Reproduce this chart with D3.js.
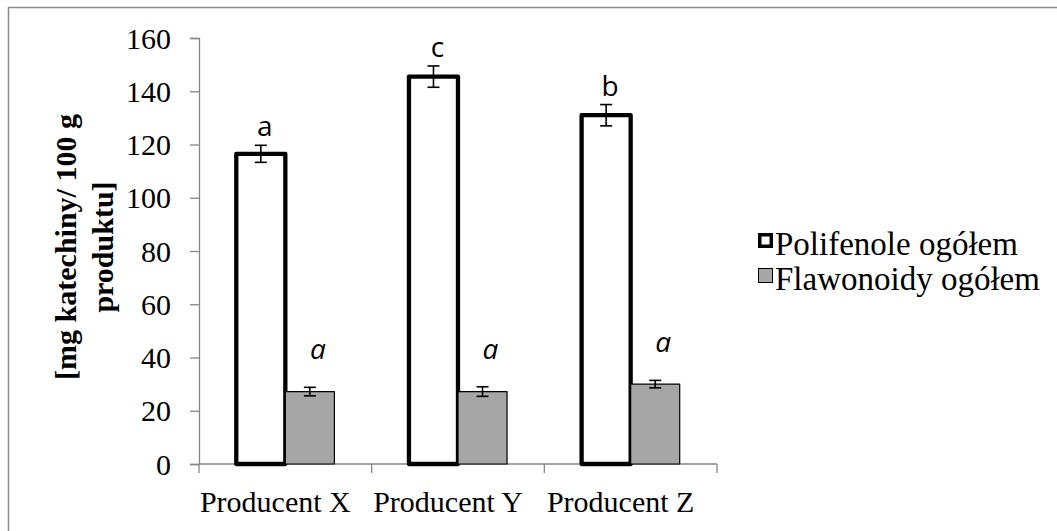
<!DOCTYPE html>
<html>
<head>
<meta charset="utf-8">
<script src="https://cdn.jsdelivr.net/npm/d3@7"></script>
<style>
  html, body { margin: 0; padding: 0; background: #fff; }
  svg { display: block; }
  .serif { font-family: "Liberation Serif", "Times New Roman", serif; }
  .sans { font-family: "Open Sans", "Liberation Sans", sans-serif; }
</style>
</head>
<body>
<svg id="chart" width="1057" height="531"></svg>
<script>
// Producer categories and the two measured series (mg catechin / 100 g product)
const categories = ["Producent X", "Producent Y", "Producent Z"];
const seriesNames = ["Polifenole ogółem", "Flawonoidy ogółem"];
const polifenole = [116.5, 145.5, 131.0];
const polifenoleErr = [3.2, 4.0, 4.0];
const flawonoidy = [27.2, 27.2, 30.0];
const flawonoidyErr = [1.6, 1.8, 1.4];
const polifenoleLetters = ["a", "c", "b"];
const flawonoidyLetters = ["a", "a", "a"];
const yTicks = [0, 20, 40, 60, 80, 100, 120, 140, 160];

const svg = d3.select("#chart");

// outer chart frame (only top and left edges fall inside the canvas)
svg.append("rect")
  .attr("x", 8.5).attr("y", 7.5)
  .attr("width", 1100).attr("height", 600)
  .attr("fill", "#fff").attr("stroke", "#8c8c8c").attr("stroke-width", 1.5);

const plot = { left: 199, right: 717, top: 38, bottom: 464 };

const y = d3.scaleLinear().domain([0, 160]).range([plot.bottom, plot.top]);
const x0 = d3.scaleBand().domain(categories).range([plot.left, plot.right]).padding(0);
const gapRatio = 1.52;
const barW = x0.bandwidth() / (2 + gapRatio);
const x1 = d3.scaleBand().domain(seriesNames).range([-barW, barW]).padding(0);

// y axis
const yAxis = d3.axisLeft(y).tickValues(yTicks).tickSize(9).tickPadding(19);
const gy = svg.append("g").attr("transform", `translate(${plot.left},0)`).call(yAxis);
gy.attr("font-family", null).attr("font-size", null);
gy.select(".domain").attr("stroke", "#868686").attr("stroke-width", 1.3);
gy.selectAll(".tick line").attr("stroke", "#868686").attr("stroke-width", 1.3);
gy.selectAll(".tick text")
  .attr("class", "serif").style("font-size", "30px").attr("fill", "#000")
  .attr("dy", "0.34em");

// x axis
const xAxisScale = d3.scaleLinear().domain([0, 3]).range([plot.left, plot.right]);
const gx = svg.append("g").attr("transform", `translate(0,${plot.bottom})`);
gx.append("line")
  .attr("x1", plot.left).attr("x2", plot.right)
  .attr("stroke", "#868686").attr("stroke-width", 1.3);
gx.selectAll("line.tk").data([0, 1, 2, 3]).join("line")
  .attr("class", "tk")
  .attr("x1", d => xAxisScale(d)).attr("x2", d => xAxisScale(d))
  .attr("y1", 0).attr("y2", 9)
  .attr("stroke", "#868686").attr("stroke-width", 1.3);
gx.selectAll("text").data(categories).join("text")
  .attr("class", "serif")
  .attr("x", d => x0(d) + x0.bandwidth() / 2 - 10)
  .attr("y", 48)
  .attr("text-anchor", "middle")
  .style("font-size", "30px").attr("fill", "#000")
  .text(d => d);

// y axis title
const title = svg.append("text")
  .attr("class", "serif")
  .attr("transform", "translate(76,247) rotate(-90)")
  .attr("text-anchor", "middle")
  .style("font-size", "30px").style("font-weight", "bold")
  .attr("fill", "#000");
title.append("tspan").attr("x", 0).attr("y", 0).text("[mg katechiny/ 100 g");
title.append("tspan").attr("x", 0).attr("y", 37).text("produktu]");

// bars
const groups = svg.append("g").selectAll("g").data(categories).join("g")
  .attr("transform", d => `translate(${x0(d) + x0.bandwidth() / 2},0)`);

function drawSeries(values, errs, letters, name, style) {
  groups.append("rect")
    .attr("x", x1(name))
    .attr("y", (d, i) => y(values[i]))
    .attr("width", x1.bandwidth())
    .attr("height", (d, i) => y(0) - y(values[i]))
    .attr("fill", style.fill)
    .attr("stroke", "#000")
    .attr("stroke-width", style.stroke)
    .attr("stroke-linejoin", "round");

  const cx = x1(name) + x1.bandwidth() / 2;
  const cap = 6;
  const eb = groups.append("g").attr("stroke", "#000").attr("stroke-width", 1.6);
  eb.append("line")
    .attr("x1", cx).attr("x2", cx)
    .attr("y1", (d, i) => y(values[i] + errs[i]))
    .attr("y2", (d, i) => y(values[i] - errs[i]));
  eb.append("line")
    .attr("x1", cx - cap).attr("x2", cx + cap)
    .attr("y1", (d, i) => y(values[i] + errs[i]))
    .attr("y2", (d, i) => y(values[i] + errs[i]));
  eb.append("line")
    .attr("x1", cx - cap).attr("x2", cx + cap)
    .attr("y1", (d, i) => y(values[i] - errs[i]))
    .attr("y2", (d, i) => y(values[i] - errs[i]));

  groups.append("text")
    .attr("class", "sans")
    .attr("x", cx + style.dx)
    .attr("y", (d, i) => y(values[i] + errs[i]) - style.lift)
    .attr("text-anchor", "middle")
    .style("font-size", "28px")
    .style("font-style", style.italic ? "italic" : "normal")
    .attr("fill", "#000")
    .text((d, i) => letters[i]);
}

drawSeries(polifenole, polifenoleErr, polifenoleLetters, seriesNames[0],
  { fill: "#fff", stroke: 4.3, dx: 4, lift: 9, italic: false });
drawSeries(flawonoidy, flawonoidyErr, flawonoidyLetters, seriesNames[1],
  { fill: "#a6a6a6", stroke: 1.2, dx: 8, lift: 28, italic: true });

// legend
const legend = svg.append("g").attr("transform", "translate(758,233)");
const legendStyles = [
  { fill: "#fff", stroke: 3.5 },
  { fill: "#a6a6a6", stroke: 1 }
];
seriesNames.forEach((name, i) => {
  const row = legend.append("g").attr("transform", `translate(0,${i * 35})`);
  const s = legendStyles[i];
  row.append("rect")
    .attr("x", s.stroke / 2).attr("y", s.stroke / 2)
    .attr("width", 15 - s.stroke).attr("height", 15 - s.stroke)
    .attr("fill", s.fill).attr("stroke", "#000").attr("stroke-width", s.stroke);
  row.append("text")
    .attr("class", "serif")
    .attr("x", 17).attr("y", 22)
    .style("font-size", "33px").attr("fill", "#000")
    .text(name);
});
</script>
</body>
</html>
